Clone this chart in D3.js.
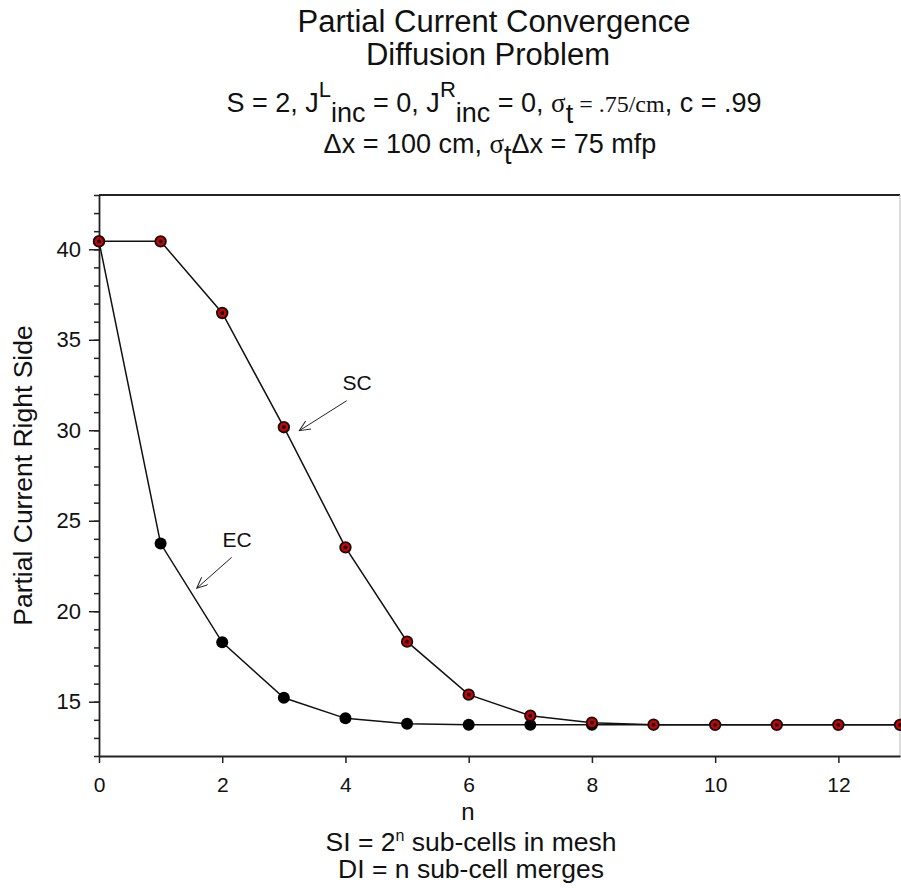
<!DOCTYPE html>
<html>
<head>
<meta charset="utf-8">
<script src="https://cdn.jsdelivr.net/npm/d3@7"></script>
<style>
    body { margin: 0; background: #ffffff; }
    text { font-family: "Liberation Sans", Arial, sans-serif; fill: #111; }
</style>
</head>
<body>
<svg id="chart" width="901" height="888"></svg>
<script>
// data
var nValues = [0, 1, 2, 3, 4, 5, 6, 7, 8, 9, 10, 11, 12, 13]
var scValues = [40.44, 40.44, 36.48, 30.17, 23.53, 18.32, 15.39, 14.23, 13.84, 13.73, 13.72, 13.72, 13.72, 13.72]
var ecValues = [40.44, 23.74, 18.28, 15.22, 14.08, 13.78, 13.73, 13.72, 13.72, 13.72, 13.72, 13.72, 13.72, 13.72]
var xTickValues = [0, 2, 4, 6, 8, 10, 12]
var yMajorTicks = [15, 20, 25, 30, 35, 40]
var yMinorTicks = d3.range(12, 44)

var plot = { left: 99, right: 900, top: 195, bottom: 756 }

var svg = d3.select("#chart")

var x = d3.scaleLinear().domain([0, 13]).range([plot.left, plot.right])
var y = d3.scaleLinear().domain([12, 43]).range([plot.bottom, plot.top])

function drawTitles() {
    svg.append("text").attr("x", 494).attr("y", 32).attr("text-anchor", "middle")
        .style("font-size", "31px").text("Partial Current Convergence")
    svg.append("text").attr("x", 488).attr("y", 65).attr("text-anchor", "middle")
        .style("font-size", "31px").text("Diffusion Problem")

    // third line mixes sub/superscripts and a serif run
    var parts = [
        { t: "S = 2, J", shift: 0 },
        { t: "L", shift: -15, size: 22 },
        { t: "inc", shift: 10 },
        { t: " = 0, J", shift: 0 },
        { t: "R", shift: -15, size: 22 },
        { t: "inc", shift: 10 },
        { t: " = 0, ", shift: 0 },
        { t: "σ", shift: 0, serif: true },
        { t: "t", shift: 11 },
        { t: " = .75/cm", shift: 0, serif: true, size: 24 },
        { t: ", c = .99", shift: 0 }
    ]
    writeRuns(svg.append("text").attr("x", 494).attr("y", 112).attr("text-anchor", "middle")
        .style("font-size", "27px"), parts)

    var parts4 = [
        { t: "Δx = 100 cm, ", shift: 0 },
        { t: "σ", shift: 0, serif: true },
        { t: "t", shift: 11 },
        { t: "Δx = 75 mfp", shift: 0 }
    ]
    writeRuns(svg.append("text").attr("x", 490).attr("y", 153).attr("text-anchor", "middle")
        .style("font-size", "27px"), parts4)
}

function writeRuns(textNode, parts) {
    var current = 0
    parts.forEach(function (p) {
        var span = textNode.append("tspan").attr("dy", p.shift - current).text(p.t)
        if (p.size) span.style("font-size", p.size + "px")
        if (p.serif) span.style("font-family", "'Liberation Serif', 'Times New Roman', serif")
        current = p.shift
    })
}

function drawAxes() {
    var frame = svg.append("g")
    frame.append("line")
        .attr("x1", plot.left).attr("y1", plot.top).attr("x2", plot.right).attr("y2", plot.top)
        .attr("stroke", "#222").attr("stroke-width", 1.8)
    frame.append("line")
        .attr("x1", plot.right).attr("y1", plot.top).attr("x2", plot.right).attr("y2", plot.bottom)
        .attr("stroke", "#bbb").attr("stroke-width", 1)

    var yMinorAxis = d3.axisLeft(y).tickValues(yMinorTicks).tickSize(5).tickFormat("")
    svg.append("g").attr("transform", "translate(" + plot.left + ",0)").call(yMinorAxis)
        .call(function (g) { g.select(".domain").remove() })
        .selectAll("line").attr("stroke", "#222").attr("stroke-width", 1.5)

    var yAxis = d3.axisLeft(y).tickValues(yMajorTicks).tickSize(10).tickSizeOuter(0).tickPadding(8)
    var yg = svg.append("g").attr("transform", "translate(" + plot.left + ",0)").call(yAxis)
    yg.select(".domain").attr("stroke", "#222").attr("stroke-width", 1.8)
    yg.selectAll(".tick line").attr("stroke", "#222").attr("stroke-width", 1.5)
    yg.selectAll(".tick text").style("font-size", "22px").attr("font-family", null).attr("fill", "#111")

    var xAxis = d3.axisBottom(x).tickValues(xTickValues).tickSize(7).tickSizeOuter(0).tickPadding(14)
    var xg = svg.append("g").attr("transform", "translate(0," + plot.bottom + ")").call(xAxis)
    xg.select(".domain").attr("stroke", "#222").attr("stroke-width", 1.8)
    xg.selectAll(".tick line").attr("stroke", "#222").attr("stroke-width", 1.5)
    xg.selectAll(".tick text").style("font-size", "21px").attr("font-family", null).attr("fill", "#111")

    svg.append("text")
        .attr("transform", "translate(32," + (plot.top + plot.bottom) / 2 + ") rotate(-90)")
        .attr("text-anchor", "middle").style("font-size", "26.5px")
        .text("Partial Current Right Side")

    svg.append("text").attr("x", 468).attr("y", 820).attr("text-anchor", "middle")
        .style("font-size", "24px").text("n")

    var si = svg.append("text").attr("x", 471).attr("y", 851).attr("text-anchor", "middle")
        .style("font-size", "26.5px")
    si.append("tspan").text("SI = 2")
    si.append("tspan").attr("dy", -10).style("font-size", "16px").text("n")
    si.append("tspan").attr("dy", 10).text(" sub-cells in mesh")

    svg.append("text").attr("x", 471).attr("y", 878).attr("text-anchor", "middle")
        .style("font-size", "26.5px").text("DI = n sub-cell merges")
}

function drawSeries() {
    var line = d3.line().x(function (d) { return x(d[0]) }).y(function (d) { return y(d[1]) })
    var ecPoints = d3.zip(nValues, ecValues)
    var scPoints = d3.zip(nValues, scValues)

    svg.append("path").datum(ecPoints).attr("d", line)
        .attr("fill", "none").attr("stroke", "#111").attr("stroke-width", 1.5)
    svg.append("path").datum(scPoints).attr("d", line)
        .attr("fill", "none").attr("stroke", "#111").attr("stroke-width", 1.5)

    svg.append("g").selectAll("circle").data(ecPoints.filter(function (d) { return d[0] <= 8 })).join("circle")
        .attr("cx", function (d) { return x(d[0]) }).attr("cy", function (d) { return y(d[1]) })
        .attr("r", 6).attr("fill", "#000")

    var sc = svg.append("g").selectAll("g").data(scPoints).join("g")
        .attr("transform", function (d) { return "translate(" + x(d[0]) + "," + y(d[1]) + ")" })
    sc.append("circle").attr("r", 5.3).attr("fill", "#d00000").attr("stroke", "#111").attr("stroke-width", 1.8)
    sc.append("circle").attr("r", 1.9).attr("fill", "#000")
}

function drawCallouts() {
    var defs = svg.append("defs")
    defs.append("marker").attr("id", "openHead")
        .attr("viewBox", "0 0 12 10").attr("refX", 11).attr("refY", 5)
        .attr("markerWidth", 12).attr("markerHeight", 10).attr("markerUnits", "userSpaceOnUse")
        .attr("orient", "auto")
        .append("path").attr("d", "M0,0 L11,5 L0,10").attr("fill", "none").attr("stroke", "#222").attr("stroke-width", 1)

    var callouts = [
        { label: "SC", lx: 357, ly: 390, from: [346.7, 400.7], to: [299.3, 430.7] },
        { label: "EC", lx: 237, ly: 547, from: [231.7, 557.3], to: [196.7, 588.3] }
    ]
    callouts.forEach(function (c) {
        svg.append("text").attr("x", c.lx).attr("y", c.ly).attr("text-anchor", "middle")
            .style("font-size", "21px").text(c.label)
        svg.append("line")
            .attr("x1", c.from[0]).attr("y1", c.from[1]).attr("x2", c.to[0]).attr("y2", c.to[1])
            .attr("stroke", "#222").attr("stroke-width", 1).attr("marker-end", "url(#openHead)")
    })
}

drawTitles()
drawAxes()
drawSeries()
drawCallouts()
</script>
</body>
</html>
